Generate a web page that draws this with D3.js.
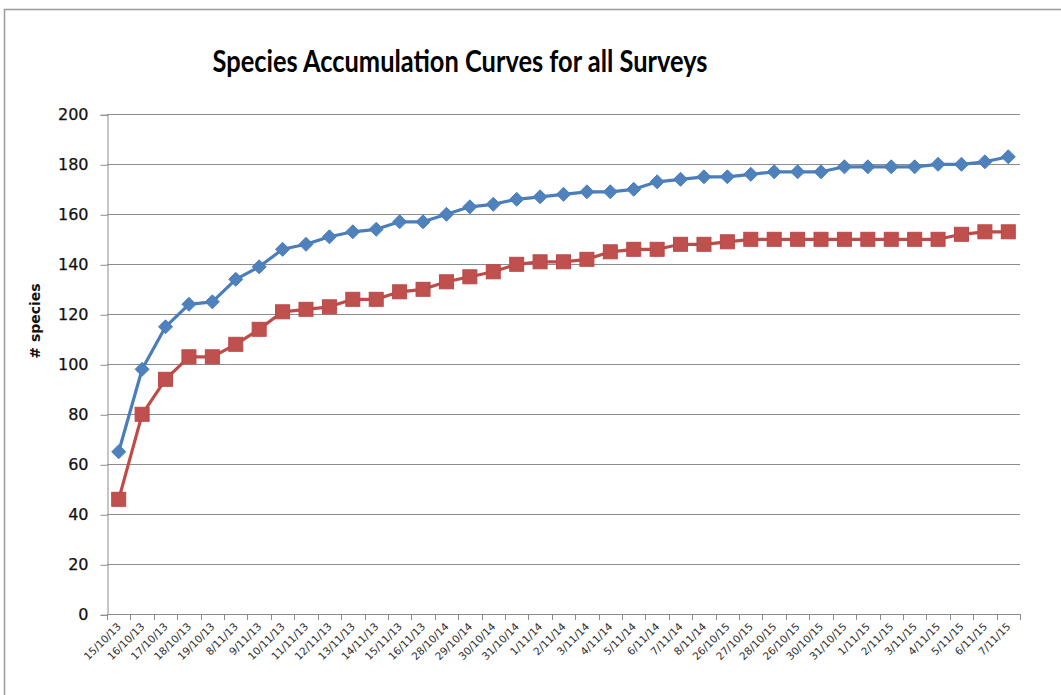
<!DOCTYPE html>
<html>
<head>
<meta charset="utf-8">
<script src="https://cdn.jsdelivr.net/npm/d3@7"></script>
<style>
  html, body { margin: 0; padding: 0; background: #fff; }
  svg { display: block; }
</style>
</head>
<body>
<svg id="chart" width="1061" height="695"></svg>
<script>
// Survey dates (category axis); 26/10/15 really does appear twice in the survey log
const dates = [
  "15/10/13", "16/10/13", "17/10/13", "18/10/13", "19/10/13", "8/11/13", "9/11/13",
  "10/11/13", "11/11/13", "12/11/13", "13/11/13", "14/11/13", "15/11/13", "16/11/13",
  "28/10/14", "29/10/14", "30/10/14", "31/10/14", "1/11/14", "2/11/14", "3/11/14",
  "4/11/14", "5/11/14", "6/11/14", "7/11/14", "8/11/14",
  "26/10/15", "27/10/15", "28/10/15", "26/10/15", "30/10/15", "31/10/15", "1/11/15",
  "2/11/15", "3/11/15", "4/11/15", "5/11/15", "6/11/15", "7/11/15"
];

// Cumulative species counts, upper curve (diamonds)
const upperSeries = [
  65, 98, 115, 124, 125, 134, 139, 146, 148, 151, 153, 154, 157, 157,
  160, 163, 164, 166, 167, 168, 169, 169, 170, 173, 174, 175,
  175, 176, 177, 177, 177, 179, 179, 179, 179, 180, 180, 181, 183
];

// Cumulative species counts, lower curve (squares)
const lowerSeries = [
  46, 80, 94, 103, 103, 108, 114, 121, 122, 123, 126, 126, 129, 130,
  133, 135, 137, 140, 141, 141, 142, 145, 146, 146, 148, 148,
  149, 150, 150, 150, 150, 150, 150, 150, 150, 150, 152, 153, 153
];

const yTicks = [0, 20, 40, 60, 80, 100, 120, 140, 160, 180, 200];

const svg = d3.select("#chart");
const plot = { left: 107, right: 1020, top: 114.3, bottom: 614.3 };

// Outer chart frame
svg.append("path")
  .attr("d", "M4.5,700 L4.5,9.5 L1070,9.5")
  .attr("fill", "none")
  .attr("stroke", "#9a9a9a")
  .attr("stroke-width", 1.5);

const x = d3.scaleBand()
  .domain(d3.range(dates.length))
  .range([plot.left, plot.right])
  .paddingInner(0).paddingOuter(0);

const y = d3.scaleLinear()
  .domain([0, 200])
  .range([plot.bottom, plot.top]);

const cx = i => x(i) + x.bandwidth() / 2;

// Horizontal gridlines
svg.append("g")
  .selectAll("line")
  .data(yTicks.filter(t => t > 0))
  .join("line")
  .attr("x1", plot.left).attr("x2", plot.right)
  .attr("y1", d => Math.round(y(d)) + 0.5).attr("y2", d => Math.round(y(d)) + 0.5)
  .attr("stroke", "#8c8c8c")
  .attr("stroke-width", 1);

// Y axis
const yAxis = svg.append("g")
  .attr("transform", `translate(${plot.left + 0.5},0.5)`)
  .call(d3.axisLeft(y).tickValues(yTicks).tickSize(7).tickPadding(12));
yAxis.select(".domain").attr("stroke", "#8c8c8c");
yAxis.selectAll(".tick line").attr("stroke", "#8c8c8c");
yAxis.selectAll(".tick text")
  .attr("font-family", "'DejaVu Sans', sans-serif")
  .attr("font-size", 16)
  .attr("fill", "#111")
  .attr("stroke", "#111")
  .attr("stroke-width", 0.25);

// X axis: ticks sit on the category boundaries
const boundaries = d3.range(dates.length + 1).map(i =>
  i < dates.length ? x(i) : plot.right);
const xAxisG = svg.append("g");
xAxisG.append("line")
  .attr("x1", plot.left).attr("x2", plot.right)
  .attr("y1", Math.round(plot.bottom) + 0.5).attr("y2", Math.round(plot.bottom) + 0.5)
  .attr("stroke", "#8c8c8c");
xAxisG.selectAll("line.tk")
  .data(boundaries)
  .join("line")
  .attr("class", "tk")
  .attr("x1", d => Math.round(d) + 0.5).attr("x2", d => Math.round(d) + 0.5)
  .attr("y1", Math.round(plot.bottom)).attr("y2", Math.round(plot.bottom) + 6)
  .attr("stroke", "#8c8c8c");
xAxisG.selectAll("text")
  .data(dates)
  .join("text")
  .attr("transform", (d, i) => `translate(${cx(i) + 3},${plot.bottom + 13}) rotate(-45)`)
  .attr("text-anchor", "end")
  .attr("font-family", "'DejaVu Sans', sans-serif")
  .attr("font-size", 10.5)
  .attr("fill", "#2e2e2e")
  .text(d => d);

// Y axis title
svg.append("text")
  .attr("transform", `translate(40,321) rotate(-90)`)
  .attr("text-anchor", "middle")
  .attr("font-family", "'DejaVu Sans', sans-serif")
  .attr("font-weight", "bold")
  .attr("font-size", 14)
  .attr("fill", "#111")
  .text("# species");

// Chart title
svg.append("text")
  .attr("x", 460)
  .attr("y", 72)
  .attr("text-anchor", "middle")
  .attr("font-family", "Lato, 'Open Sans', sans-serif")
  .attr("font-weight", "bold")
  .attr("font-size", 30)
  .attr("textLength", 495)
  .attr("lengthAdjust", "spacingAndGlyphs")
  .attr("fill", "#000")
  .text("Species Accumulation Curves for all Surveys");

const line = d3.line().x((d, i) => cx(i)).y(d => y(d));

// Lower curve with square markers
svg.append("path")
  .datum(lowerSeries)
  .attr("d", line)
  .attr("fill", "none")
  .attr("stroke", "#be4b48")
  .attr("stroke-width", 3.2)
  .attr("stroke-linejoin", "round");
svg.append("g")
  .selectAll("rect")
  .data(lowerSeries)
  .join("rect")
  .attr("x", (d, i) => cx(i) - 7)
  .attr("y", d => y(d) - 7)
  .attr("width", 14).attr("height", 14)
  .attr("fill", "#c0504d")
  .attr("stroke", "#b9494a")
  .attr("stroke-width", 1);

// Upper curve with diamond markers
svg.append("path")
  .datum(upperSeries)
  .attr("d", line)
  .attr("fill", "none")
  .attr("stroke", "#4a7ebb")
  .attr("stroke-width", 3.2)
  .attr("stroke-linejoin", "round");
const diamond = d3.symbol().type(d3.symbolDiamond2).size(125);
svg.append("g")
  .selectAll("path")
  .data(upperSeries)
  .join("path")
  .attr("transform", (d, i) => `translate(${cx(i)},${y(d)})`)
  .attr("d", diamond)
  .attr("fill", "#4f81bd")
  .attr("stroke", "#4a7ebb")
  .attr("stroke-width", 1);
</script>
</body>
</html>
